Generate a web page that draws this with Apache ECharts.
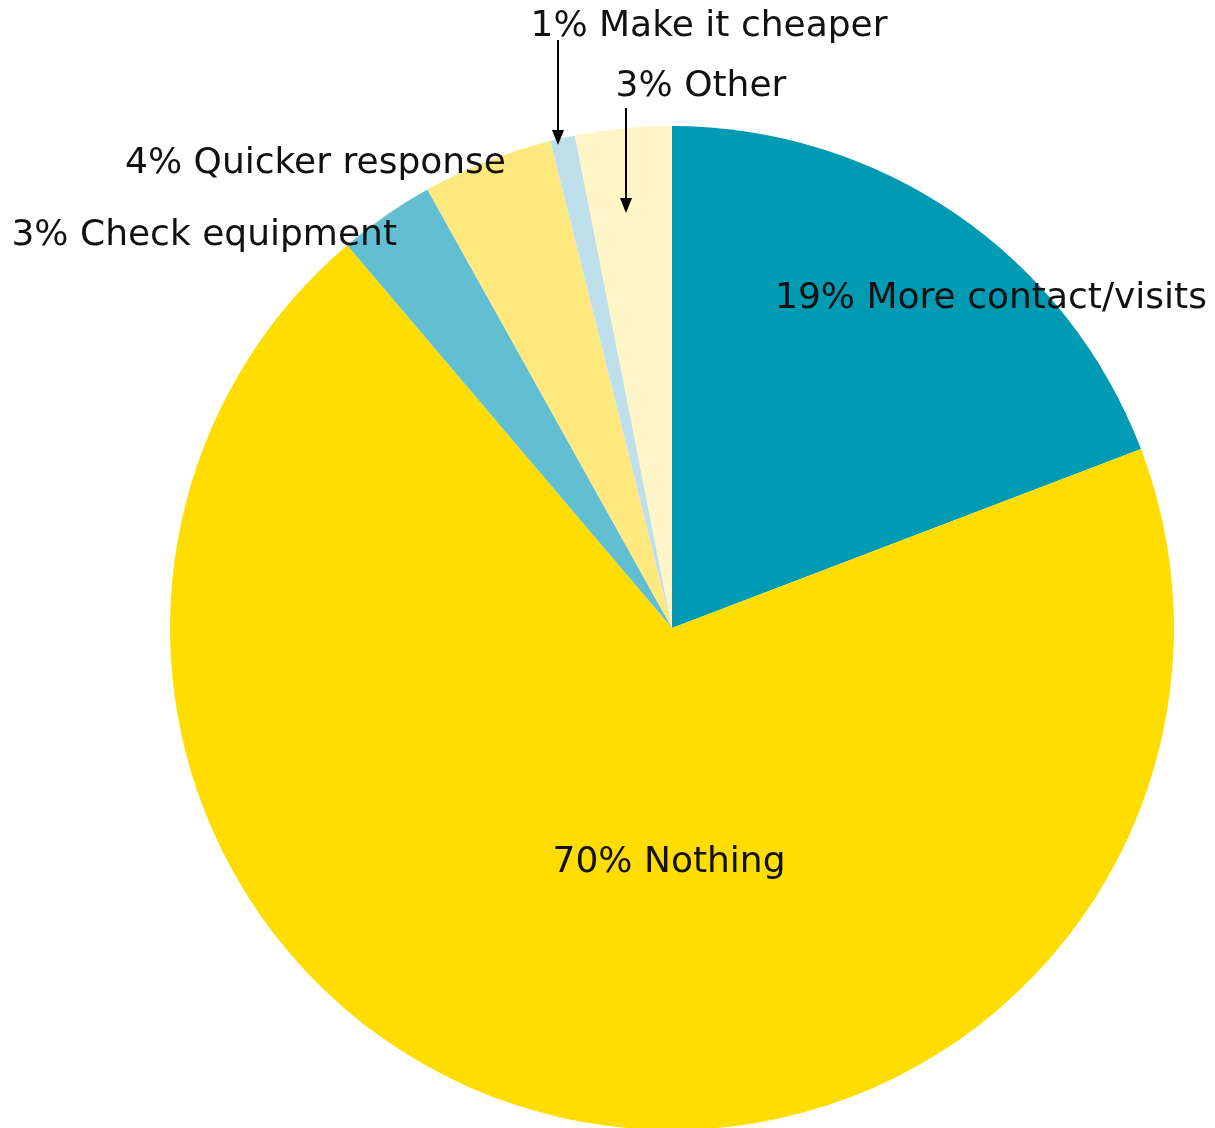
<!DOCTYPE html>
<html>
<head>
<meta charset="utf-8">
<script src="https://cdn.jsdelivr.net/npm/echarts@6/dist/echarts.min.js"></script>
<style>
  html, body { margin: 0; padding: 0; background: #fff; }
  #main { width: 1215px; height: 1128px; }
</style>
</head>
<body>
<div id="main"></div>
<script>
// slices, clockwise from 12 o'clock (percent)
var categories = ['More contact/visits', 'Nothing', 'Check equipment', 'Quicker response', 'Make it cheaper', 'Other'];
var values = [19.2, 69.6, 3.1, 4.2, 0.8, 3.1];

var colors = ['#009AB3', '#FFDD00', '#62BFD2', '#FFE97F', '#BEE0EA', '#FFF5C6'];
// where each label sits on the page [x, y, align]
var labelPos = [
  [991, 299, 'center'],
  [669, 863, 'center'],
  [397, 236, 'right'],
  [506, 164, 'right'],
  [709, 27, 'center'],
  [701, 87, 'center']
];

var chart = echarts.init(document.getElementById('main'));

function arrow(x, y1, y2) {
  return [
    { type: 'line', z: 100, shape: { x1: x, y1: y1, x2: x, y2: y2 - 10 }, style: { stroke: '#000', lineWidth: 2 } },
    { type: 'polygon', z: 100, shape: { points: [[x - 6, y2 - 15], [x + 6, y2 - 15], [x, y2]] }, style: { fill: '#000' } }
  ];
}

var pieData = [];
for (var i = 0; i < categories.length; i++) {
  pieData.push({ name: categories[i], value: values[i], itemStyle: { color: colors[i] } });
}

chart.setOption({
  animation: false,
  graphic: arrow(558, 40, 145).concat(arrow(626, 108, 213)),
  series: [
    {
      type: 'pie',
      center: [672, 628],
      radius: 502,
      startAngle: 90,
      clockwise: true,
      avoidLabelOverlap: false,
      silent: true,
      z: 1,
      itemStyle: { borderWidth: 0 },
      label: {
        show: true,
        position: 'inside',
        color: '#111',
        fontSize: 36,
        fontFamily: 'DejaVu Sans',
        formatter: function (p) { return Math.round(p.value) + '% ' + p.name; }
      },
      labelLine: { show: false },
      labelLayout: function (p) {
        var lp = labelPos[p.dataIndex];
        return { x: lp[0], y: lp[1], align: lp[2], verticalAlign: 'middle' };
      },
      data: pieData
    }
  ]
});
</script>
</body>
</html>
